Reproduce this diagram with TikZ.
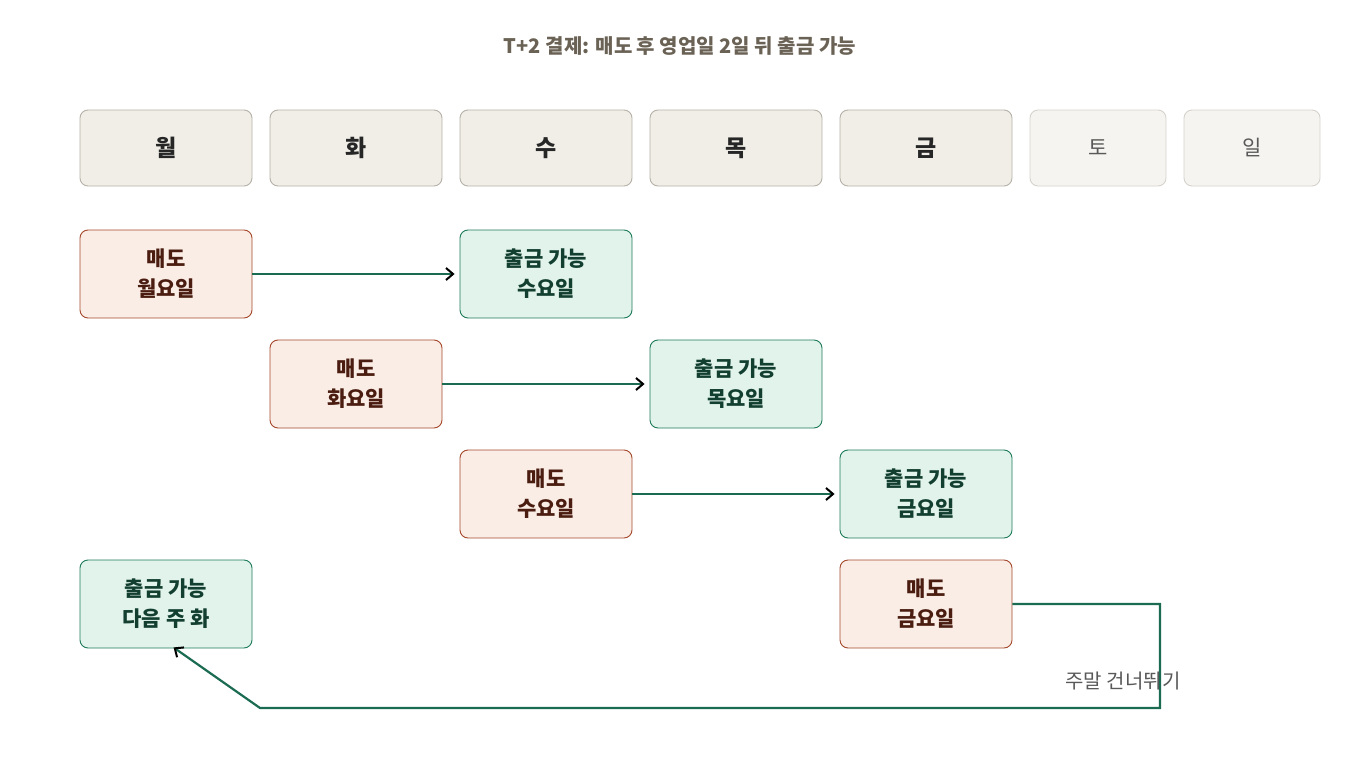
\documentclass[tikz,border=0pt]{standalone}
\usepackage{fontspec}
\setmainfont{Noto Sans CJK KR}
\newfontfamily\krb{Noto Sans CJK KR}[BoldFont={* Bold}]
\usetikzlibrary{arrows.meta}
\definecolor{dayfill}{HTML}{F1EEE7}
\definecolor{daydraw}{HTML}{B5B1A8}
\definecolor{wefill}{HTML}{F6F4F0}
\definecolor{wedraw}{HTML}{D6D3CD}
\definecolor{sellfill}{HTML}{FAEDE6}
\definecolor{selldraw}{HTML}{A4482C}
\definecolor{selltext}{HTML}{4A1D10}
\definecolor{okfill}{HTML}{E1F3EB}
\definecolor{okdraw}{HTML}{1E7B5A}
\definecolor{oktext}{HTML}{123F30}
\definecolor{arr}{HTML}{1B6B53}
\definecolor{ttl}{HTML}{6B6256}
\begin{document}
\begin{tikzpicture}[x=1pt,y=-1pt,
  box/.style={rounded corners=8pt,line width=0.9pt,align=center,inner sep=0pt,font=\fontsize{21}{30}\selectfont\bfseries},
  day/.style={box,fill=dayfill,draw=daydraw,minimum width=172pt,minimum height=76pt,text=black!85,font=\fontsize{23}{28}\selectfont\bfseries},
  we/.style={box,fill=wefill,draw=wedraw,minimum width=136pt,minimum height=76pt,text=black!65,font=\fontsize{21}{28}\selectfont},
  sell/.style={box,fill=sellfill,draw=selldraw,minimum width=172pt,minimum height=88pt,text=selltext},
  ok/.style={box,fill=okfill,draw=okdraw,minimum width=172pt,minimum height=88pt,text=oktext},
  link/.style={draw=arr,line width=2.2pt,-{Straight Barb[length=7pt,width=12pt,line width=2pt,color=black]}}]
\useasboundingbox (0,0) rectangle (1360,760);
\node[font=\fontsize{20}{24}\selectfont\bfseries,text=ttl] (title) at (680,46) {T+2 결제: 매도 후 영업일 2일 뒤 출금 가능};
\node[day] (mon) at (166,148) {월};
\node[day] (tue) at (356,148) {화};
\node[day] (wed) at (546,148) {수};
\node[day] (thu) at (736,148) {목};
\node[day] (fri) at (926,148) {금};
\node[we] (sat) at (1098,148) {토};
\node[we] (sun) at (1252,148) {일};
\node[sell] (s1) at (166,274) {매도\\월요일};
\node[ok] (o1) at (546,274) {출금 가능\\수요일};
\node[sell] (s2) at (356,384) {매도\\화요일};
\node[ok] (o2) at (736,384) {출금 가능\\목요일};
\node[sell] (s3) at (546,494) {매도\\수요일};
\node[ok] (o3) at (926,494) {출금 가능\\금요일};
\node[ok] (o4) at (166,604) {출금 가능\\다음 주 화};
\node[sell] (s4) at (926,604) {매도\\금요일};
\draw[link] (s1) -- ([xshift=-5pt]o1.west);
\draw[link] (s2) -- ([xshift=-5pt]o2.west);
\draw[link] (s3) -- ([xshift=-5pt]o3.west);
\coordinate (c1) at (1160,604);
\coordinate (c2) at (1160,708);
\coordinate (c3) at (260,708);
\draw[link,rounded corners=0pt] (s4.east) -- (c1) -- (c2) -- (c3) -- ([yshift=1pt,xshift=94pt]o4.south west);
\node[font=\fontsize{20}{24}\selectfont,text=black!65] (lbl) at (1123,681) {주말 건너뛰기};
\end{tikzpicture}
\end{document}
